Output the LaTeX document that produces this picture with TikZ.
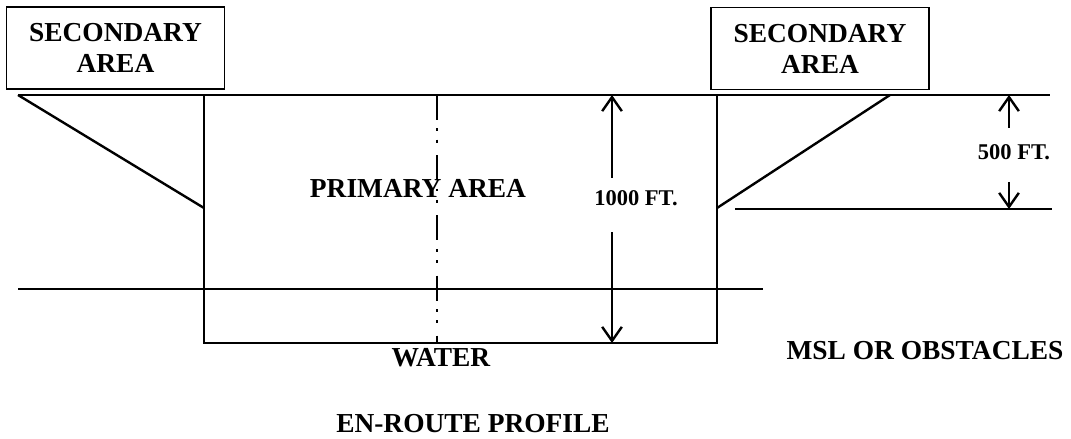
\documentclass[tikz,border=0pt]{standalone}
\usepackage{fontspec}
\setmainfont{Liberation Serif}
\usetikzlibrary{positioning, arrows.meta}

\begin{document}
\begin{tikzpicture}[
x=0.025cm, y=-0.025cm,
line/.style={line width=1.7pt},
lbl/.style={font=\fontsize{19.5}{22}\selectfont\bfseries, inner sep=0pt},
ftlbl/.style={font=\fontsize{16}{18}\selectfont\bfseries, inner sep=0pt},
areabox/.style={draw, line width=0.8pt, align=center, minimum width=5.45cm, minimum height=2.05cm,
  font=\fontsize{19.5}{22}\selectfont\bfseries},
centerline/.style={line width=1.7pt, dash pattern=on 17.8pt off 6pt on 2pt off 6pt on 2pt off 9pt},
>={Straight Barb[length=10pt, width=14pt]}
]
\useasboundingbox (0,0) rectangle (1071,439);

% secondary areas
\node[areabox] (secl) at (115.5,48) {SECONDARY\\AREA};
\node[areabox] (secr) at (820,48.5) {SECONDARY\\AREA};

% profile points
\coordinate (topl) at (18,95);
\coordinate (topr) at (1050,95);
\coordinate (pnw) at (204,95);
\coordinate (psw) at (204,343);
\coordinate (pse) at (717,343);
\coordinate (pne) at (717,95);
\coordinate (ldiag) at (204,208);
\coordinate (rdiag) at (717,208);
\coordinate (rtop) at (890,95);
\coordinate (obsl) at (735,209);
\coordinate (obsr) at (1052,209);
\coordinate (watl) at (18,289);
\coordinate (watr) at (763,289);
\coordinate (ctop) at (437,95);
\coordinate (cbot) at (437,343);

% profile
\draw[line] (topl) -- (topr);
\draw[line] (pnw) -- (psw) -- (pse) -- (pne);
\draw[line] (topl) -- (ldiag);
\draw[line] (rdiag) -- (rtop);
\draw[line] (obsl) -- (obsr);
\draw[line] (watl) -- (watr);
\draw[centerline] (ctop) -- (cbot);

% labels
\node[lbl] (prim) at (418,188) {PRIMARY AREA};
\node[ftlbl] (ft1000) at (636,198) {1000 FT.};
\node[ftlbl] (ft500) at (1014,152) {500 FT.};
\node[lbl] (water) at (441,358) {WATER};
\node[lbl] (msl) at (925,351) {MSL OR OBSTACLES};
\node[lbl] (title) at (473,424) {EN-ROUTE PROFILE};

% dimensions
\coordinate (a1000u) at (612,178);
\coordinate (a1000ut) at (612,95);
\coordinate (a1000d) at (612,232);
\coordinate (a1000dt) at (612,343);
\coordinate (a500u) at (1009,128);
\coordinate (a500ut) at (1009,95);
\coordinate (a500d) at (1009,182);
\coordinate (a500dt) at (1009,209);
\draw[line,->] (a1000u) -- (a1000ut);
\draw[line,->] (a1000d) -- (a1000dt);
\draw[line,->] (a500u) -- (a500ut);
\draw[line,->] (a500d) -- (a500dt);

\end{tikzpicture}
\end{document}
